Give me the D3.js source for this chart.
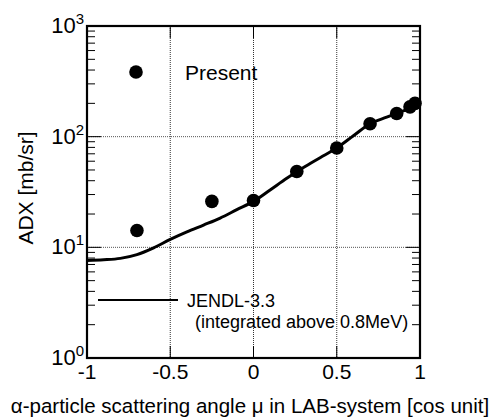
<!DOCTYPE html>
<html>
<head>
<meta charset="utf-8">
<script src="https://cdn.jsdelivr.net/npm/d3@7"></script>
<style>
  html, body { margin: 0; padding: 0; background: #fff; }
  svg text { font-family: "Liberation Sans", Arial, sans-serif; fill: #000; }
</style>
</head>
<body>
<svg id="chart" width="497" height="420"></svg>
<script>
// ── Data ──────────────────────────────────────────────────────────────────────
const X_TICKS  = [-1, -0.5, 0, 0.5, 1];
const X_LABELS = ['-1', '-0.5', '0', '0.5', '1'];
const Y_EXPS   = [0, 1, 2, 3];

// measured points ("Present")
const expMu  = [-0.7, -0.25, 0.0, 0.26, 0.5, 0.7, 0.86, 0.94, 0.97];
const expAdx = [14.2, 26, 26.5, 48.5, 79, 131, 162, 186, 200];

// JENDL-3.3 curve
const jendlMu  = [-1, -0.9, -0.8, -0.7, -0.6, -0.5, -0.4, -0.3, -0.2, -0.1, 0,
                  0.1, 0.2, 0.3, 0.4, 0.5, 0.6, 0.7, 0.8, 0.9, 1.0];
const jendlAdx = [7.6, 7.72, 7.95, 8.6, 9.9, 11.8, 13.8, 15.9, 18.4, 21.9, 26,
                  33, 42, 52.6, 64.5, 79, 102, 131, 150, 171, 195];

// ── Layout ────────────────────────────────────────────────────────────────────
const m = { top: 26, left: 87 };
const W = 333, H = 332;

const svg = d3.select('#chart');
const g = svg.append('g').attr('transform', `translate(${m.left},${m.top})`);

const x = d3.scaleLinear().domain([-1, 1]).range([0, W]);
const y = d3.scaleLog().domain([1, 1000]).range([H, 0]);

// Grid (dotted)
g.selectAll('line.gx')
    .data(X_TICKS.slice(1, -1))
    .join('line')
    .attr('x1', d => x(d)).attr('x2', d => x(d))
    .attr('y1', 0).attr('y2', H)
    .attr('stroke', '#333').attr('stroke-width', 1)
    .attr('stroke-dasharray', '1,1');

g.selectAll('line.gy')
    .data(Y_EXPS.slice(1, -1))
    .join('line')
    .attr('x1', 0).attr('x2', W)
    .attr('y1', d => y(10 ** d)).attr('y2', d => y(10 ** d))
    .attr('stroke', '#555').attr('stroke-width', 1)
    .attr('stroke-dasharray', '1,1');

// Ticks (inside)
const minors = [];
[0, 1, 2].forEach(e => { for (let k = 2; k <= 9; k++) minors.push(k * 10 ** e); });

[0, W].forEach(side => {
    const dir = side === 0 ? 1 : -1;
    g.selectAll(null)
        .data(minors)
        .join('line')
        .attr('x1', side).attr('x2', side + dir * 8)
        .attr('y1', d => y(d)).attr('y2', d => y(d))
        .attr('stroke', '#000').attr('stroke-width', 1);
    g.selectAll(null)
        .data([10, 100])
        .join('line')
        .attr('x1', side).attr('x2', side + dir * 14)
        .attr('y1', d => y(d)).attr('y2', d => y(d))
        .attr('stroke', '#000').attr('stroke-width', 1);
});

[0, H].forEach(side => {
    const dir = side === 0 ? 1 : -1;
    g.selectAll(null)
        .data(X_TICKS.slice(1, -1))
        .join('line')
        .attr('x1', d => x(d)).attr('x2', d => x(d))
        .attr('y1', side).attr('y2', side + dir * 12)
        .attr('stroke', '#000').attr('stroke-width', 1);
});

// JENDL curve
const line = d3.line()
    .x(d => x(d[0]))
    .y(d => y(d[1]))
    .curve(d3.curveMonotoneX);

g.append('path')
    .datum(jendlMu.map((mu, i) => [mu, jendlAdx[i]]))
    .attr('d', line)
    .attr('fill', 'none')
    .attr('stroke', '#000')
    .attr('stroke-width', 3);

// Measured points
g.selectAll('circle.pt')
    .data(expMu.map((mu, i) => [mu, expAdx[i]]))
    .join('circle')
    .attr('class', 'pt')
    .attr('cx', d => x(d[0]))
    .attr('cy', d => y(d[1]))
    .attr('r', 6.8)
    .attr('fill', '#000');

// Frame
g.append('rect')
    .attr('width', W).attr('height', H)
    .attr('fill', 'none')
    .attr('stroke', '#000')
    .attr('stroke-width', 2.2);

// ── Axis labels ───────────────────────────────────────────────────────────────
g.selectAll('text.xl')
    .data(X_TICKS)
    .join('text')
    .attr('x', d => x(d))
    .attr('y', H + 21)
    .attr('text-anchor', 'middle')
    .attr('font-size', 21)
    .text((d, i) => X_LABELS[i]);

Y_EXPS.forEach(e => {
    const t = g.append('text')
        .attr('x', -3)
        .attr('y', y(10 ** e) + 7)
        .attr('text-anchor', 'end')
        .attr('font-size', 22);
    t.append('tspan').text('10');
    t.append('tspan').attr('dy', -9).attr('font-size', 15).text(e);
});

svg.append('text')
    .attr('transform', `translate(33,${m.top + H / 2 - 4}) rotate(-90)`)
    .attr('text-anchor', 'middle')
    .attr('font-size', 21)
    .text('ADX [mb/sr]');

svg.append('text')
    .attr('x', 250)
    .attr('y', 413)
    .attr('text-anchor', 'middle')
    .attr('font-size', 20.5)
    .text('α-particle scattering angle μ in LAB-system [cos unit]');

// ── Legend ────────────────────────────────────────────────────────────────────
g.append('circle')
    .attr('cx', 136 - m.left).attr('cy', 72 - m.top)
    .attr('r', 6.8).attr('fill', '#000');
g.append('text')
    .attr('x', 185 - m.left).attr('y', 80 - m.top)
    .attr('font-size', 21)
    .text('Present');

g.append('line')
    .attr('x1', 98 - m.left).attr('x2', 178 - m.left)
    .attr('y1', 300 - m.top).attr('y2', 300 - m.top)
    .attr('stroke', '#000').attr('stroke-width', 2);
g.append('text')
    .attr('x', 187 - m.left).attr('y', 307 - m.top)
    .attr('font-size', 18)
    .text('JENDL-3.3');
g.append('text')
    .attr('x', 195 - m.left).attr('y', 328 - m.top)
    .attr('font-size', 18)
    .text('(integrated above 0.8MeV)');
</script>
</body>
</html>
